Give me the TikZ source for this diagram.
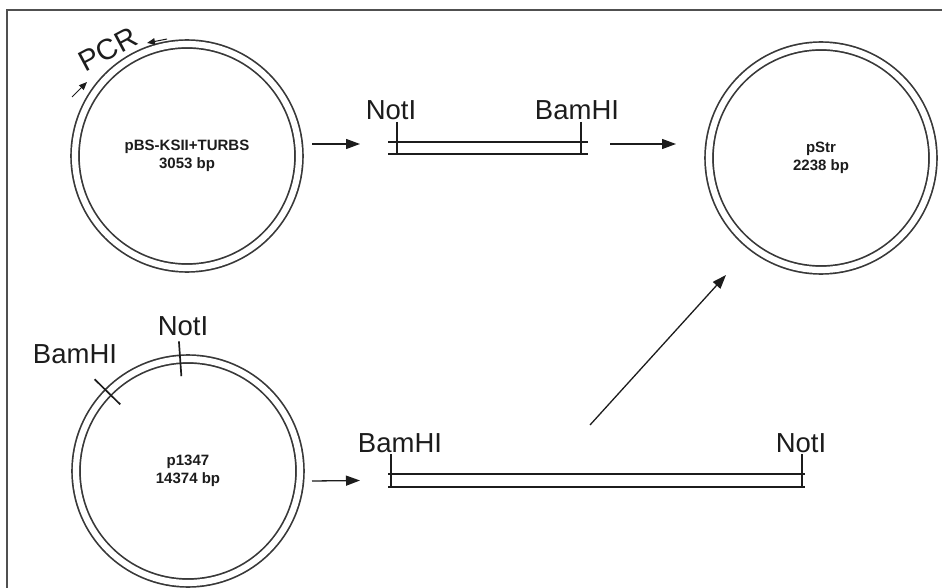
\documentclass[tikz,border=0pt]{standalone}
\usepackage{fontspec}
\setmainfont{Liberation Sans}
\usetikzlibrary{arrows.meta}
\definecolor{ink}{HTML}{1C1C1C}
\definecolor{ringc}{HTML}{383838}
\definecolor{framec}{HTML}{505050}
\begin{document}
\begin{tikzpicture}[x=1pt,y=-1pt,
  plasmid/.style={circle, draw=ringc, line width=1.7pt, double=white,
    double distance=6.2pt, minimum size=224pt, inner sep=0pt, outer sep=0pt,
    align=center, text=ink, font=\bfseries\fontsize{15}{17.5}\selectfont},
  frag/.style={rectangle, inner sep=0pt, outer sep=0pt},
  strand/.style={draw=ink, line width=2.9pt},
  cut/.style={draw=ink, line width=1.1pt},
  sitecut/.style={draw=ink, line width=1.7pt},
  enzyme/.style={anchor=base, inner sep=0pt, text=ink,
    font=\fontsize{27.5}{30}\selectfont},
  arr/.style={draw=ink, line width=1.3pt, -{Triangle[length=14pt,width=10pt]}},
  primer/.style={draw=ink, line width=1pt, -{Triangle[length=8pt,width=6.5pt]}}
]
\useasboundingbox (0,0) rectangle (942,588);

% frame (left and top edges)
\draw[framec, line width=1.5pt] (7,600) -- (7,10) -- (950,10);

% plasmids
\node[plasmid] (pbs) at (187,156) {pBS-KSII+TURBS\\3053 bp};
\node[plasmid] (pstr) at (821,158) {pStr\\2238 bp};
\node[plasmid] (p1347) at (188,471) {p1347\\14374 bp};

% PCR primers on pBS-KSII+TURBS
\node[text=ink, inner sep=0pt, rotate=28, font=\fontsize{29}{30}\selectfont]
  (pcr) at ([shift={(-79,-107)}]pbs.center) {PCR};
\begin{scope}[shift={(pbs.center)}]
  \draw[primer] (-115,-59) -- (-100,-74);
  \draw[primer] (-20,-117) -- (-40,-113);
\end{scope}

% restriction sites on p1347
\begin{scope}[shift={(p1347.center)}]
  \draw[sitecut] (-94:95) -- (-94:130);
  \draw[sitecut] (-135.5:95) -- (-135.5:131);
\end{scope}
\node[enzyme] (p1not) at ([shift={(-5,-136)}]p1347.center) {NotI};
\node[enzyme] (p1bam) at ([shift={(-113,-108)}]p1347.center) {BamHI};

% PCR fragment NotI--BamHI
\node[frag, minimum width=200pt, minimum height=12pt] (frag1) at (488,148) {};
\draw[strand] (frag1.north west) -- (frag1.north east)
              (frag1.south west) -- (frag1.south east);
\path (frag1.north west) ++(9,-20) coordinate (f1not);
\path (frag1.north east) ++(-7,-20) coordinate (f1bam);
\draw[cut] (f1not) -- (f1not |- frag1.south);
\draw[cut] (f1bam) -- (f1bam |- frag1.south);
\node[enzyme] (f1notlab) at ([shift={(-6,-2)}]f1not) {NotI};
\node[enzyme] (f1bamlab) at ([shift={(-4,-2)}]f1bam) {BamHI};

% vector fragment BamHI--NotI
\node[frag, minimum width=417pt, minimum height=13pt] (frag2) at (596.5,480.5) {};
\draw[strand] (frag2.north west) -- (frag2.north east)
              (frag2.south west) -- (frag2.south east);
\path (frag2.north west) ++(3,-20) coordinate (f2bam);
\path (frag2.north east) ++(-3,-20) coordinate (f2not);
\draw[cut] (f2bam) -- (f2bam |- frag2.south);
\draw[cut] (f2not) -- (f2not |- frag2.south);
\node[enzyme] (f2bamlab) at ([shift={(9,-2)}]f2bam) {BamHI};
\node[enzyme] (f2notlab) at ([shift={(-1,-2)}]f2not) {NotI};

% cloning steps
\draw[arr] ([shift={(13,-12)}]pbs.east) -- ([shift={(-28,-4)}]frag1.west);
\draw[arr] ([shift={(22,-4)}]frag1.east) -- ([shift={(-33,-14)}]pstr.west);
\draw[arr] ([shift={(12,10)}]p1347.east) -- ([shift={(-28,0)}]frag2.west);
\draw[arr] ([shift={(-6.5,-49)}]frag2.north) -- ([shift={(-95,5)}]pstr.south);
\end{tikzpicture}
\end{document}
